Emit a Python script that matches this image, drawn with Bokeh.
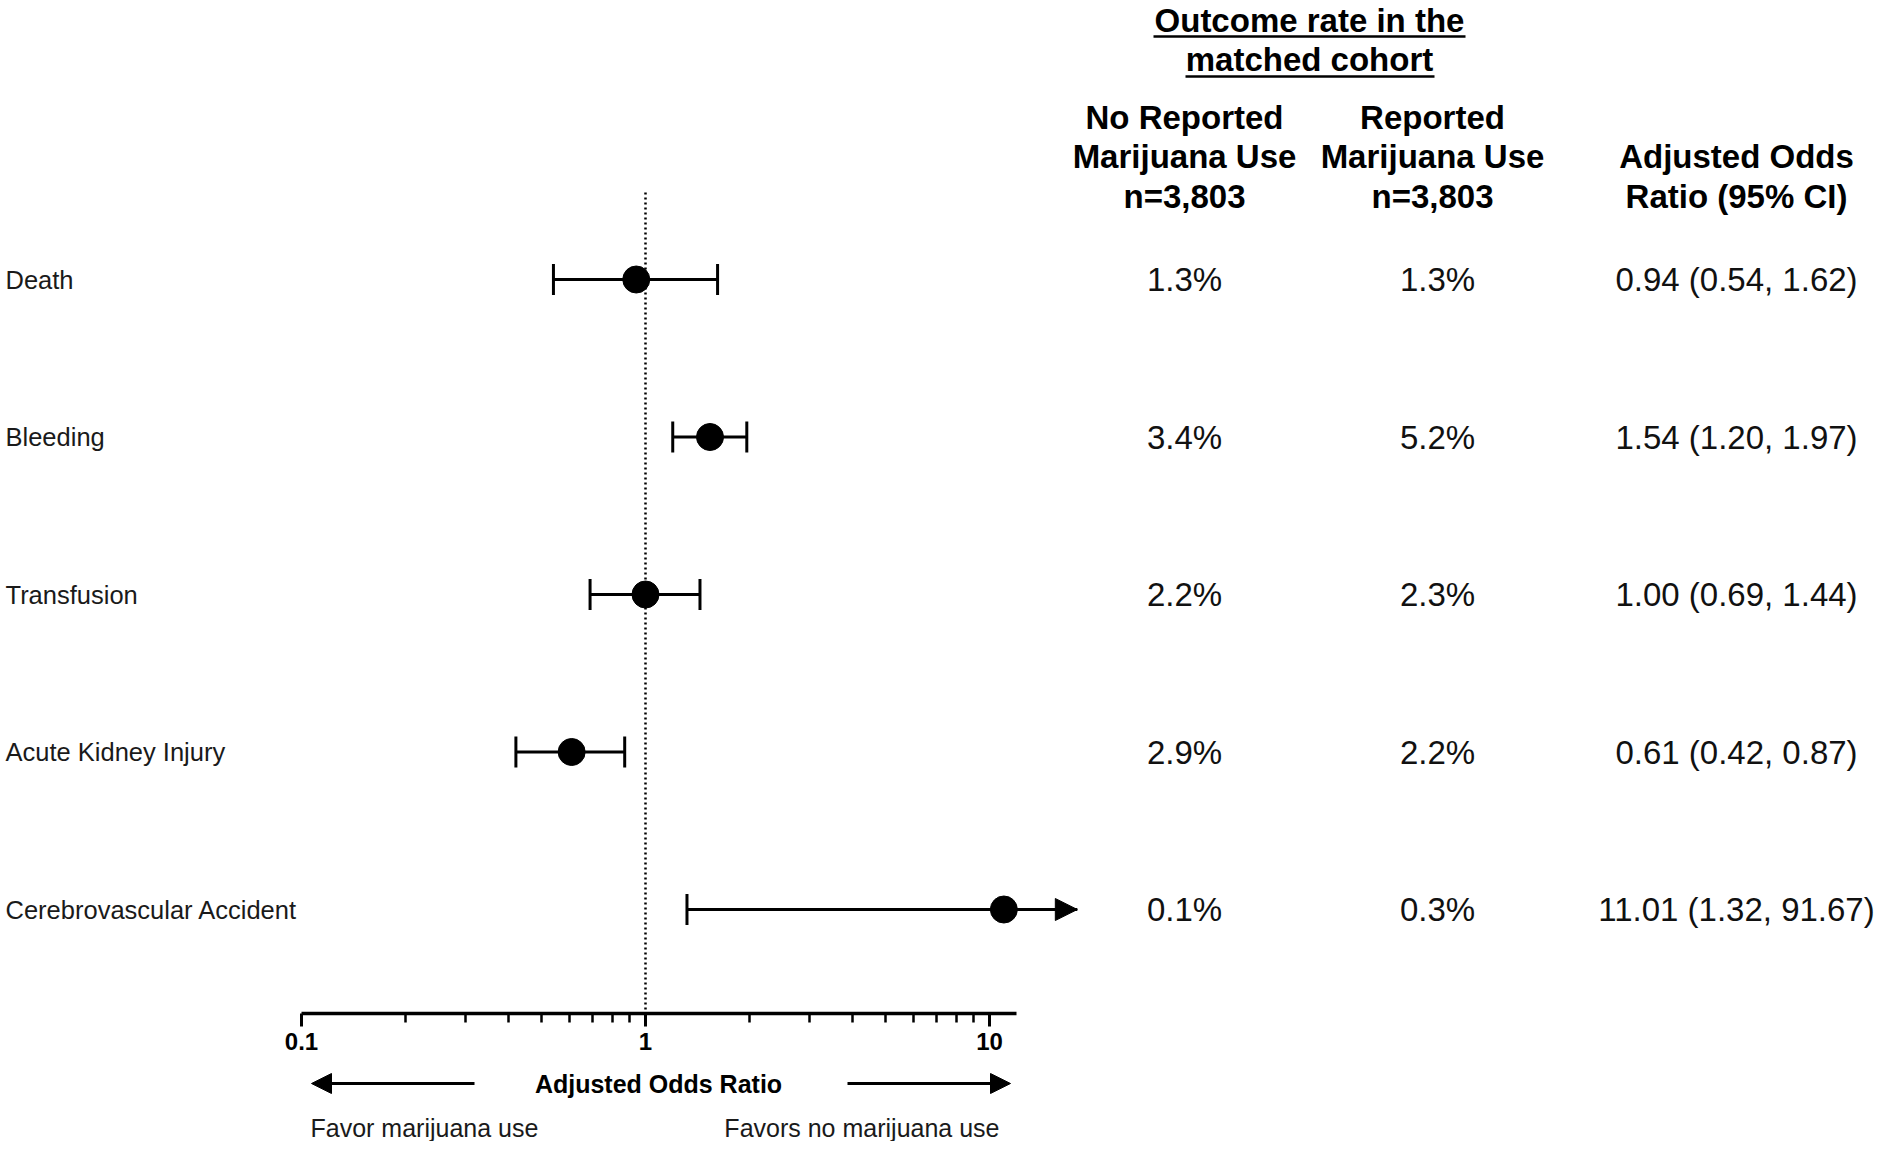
import numpy as np
from bokeh.plotting import figure
from bokeh.models import (Range1d, LinearScale, FixedTicker, ColumnDataSource,
                          Arrow, NormalHead)
from bokeh.layouts import column
from bokeh.embed import file_html
from bokeh.resources import INLINE
from bokeh.core.properties import value

# ---------------- data ----------------
outcomes = ["Death", "Bleeding", "Transfusion", "Acute Kidney Injury",
            "Cerebrovascular Accident"]
odds_ratio = [0.94, 1.54, 1.00, 0.61, 11.01]
ci_low = [0.54, 1.20, 0.69, 0.42, 1.32]
ci_high = [1.62, 1.97, 1.44, 0.87, 91.67]
rate_no_use = [1.3, 3.4, 2.2, 2.9, 0.1]
rate_use = [1.3, 5.2, 2.3, 2.2, 0.3]
n_no_use = 3803
n_use = 3803
major_ticks = [0.1, 1, 10]
major_tick_labels = ["0.1", "1", "10"]
minor_ticks = [0.2, 0.3, 0.4, 0.5, 0.6, 0.7, 0.8, 0.9,
               2, 3, 4, 5, 6, 7, 8, 9]
axis_bounds = (0.1, 12)
display_max = 18          # CI beyond this is drawn as an arrow

# ---------------- layout (page pixels) ----------------
FONT = value("Liberation Sans")
PAGE = 0
W = 1874
X_ONE = 645               # page x of OR = 1
DECADE = 344              # px per decade
ROW0 = 279
ROW_STEP = 157.5
AXIS_Y = 1013
HT = AXIS_Y - PAGE + 56
HB = 72
COL1, COL2, COL3, HEAD = 1184, 1432, 1736, 1309
COL2_VALUES = 1437


def or_at(px):
    return 10 ** ((px - X_ONE) / DECADE)


def row_at(py):
    return (py - ROW0) / ROW_STEP


x_range = Range1d(or_at(PAGE), or_at(PAGE + W))

top = figure(width=W, height=HT, x_axis_type="log", x_range=x_range,
             y_range=Range1d(row_at(AXIS_Y), row_at(PAGE)),
             y_axis_location=None, output_backend="svg",
             toolbar_location=None, min_border=0)
top.min_border_bottom = HT - (AXIS_Y - PAGE)
top.extra_x_ranges = {"px": Range1d(PAGE, PAGE + W)}
top.extra_x_scales = {"px": LinearScale()}
top.outline_line_color = None
top.grid.visible = False
top.background_fill_color = "white"
top.border_fill_color = "white"

ax = top.xaxis[0]
ax.ticker = FixedTicker(ticks=major_ticks, minor_ticks=minor_ticks)
ax.major_label_overrides = {t: l for t, l in zip(major_ticks, major_tick_labels)}
ax.bounds = axis_bounds
ax.axis_line_width = 3.5
ax.axis_line_color = "black"
ax.major_tick_line_width = 3
ax.major_tick_line_color = "black"
ax.minor_tick_line_width = 2.5
ax.minor_tick_line_color = "black"
ax.major_tick_in = 0
ax.major_tick_out = 13
ax.minor_tick_in = 0
ax.minor_tick_out = 9
ax.major_label_standoff = 6
ax.major_label_text_font = "Liberation Sans"
ax.major_label_text_font_style = "bold"
ax.major_label_text_font_size = "24px"
ax.major_label_text_color = "black"

n = len(outcomes)
rows = list(range(n))
seg_hi = [min(h, display_max) for h in ci_high]
clipped = [h > display_max for h in ci_high]

# reference line at OR = 1
top.segment(x0=[1], x1=[1], y0=[row_at(192)], y1=[row_at(AXIS_Y)],
            line_color="black", line_width=2.5, line_dash="2 3")

src = ColumnDataSource(dict(y=rows, lo=ci_low, hi=seg_hi, orr=odds_ratio))
top.segment(x0="lo", x1="hi", y0="y", y1="y", source=src,
            line_color="black", line_width=3)
top.scatter(x="lo", y="y", source=src, marker="dash", angle=np.pi / 2,
            size=31, line_color="black", line_width=3)
cap_src = ColumnDataSource(dict(
    x=[h for h, c in zip(ci_high, clipped) if not c],
    y=[r for r, c in zip(rows, clipped) if not c]))
top.scatter(x="x", y="y", source=cap_src, marker="dash", angle=np.pi / 2,
            size=31, line_color="black", line_width=3)
arr_src = ColumnDataSource(dict(
    x0=[o for o, c in zip(odds_ratio, clipped) if c],
    x1=[display_max for c in clipped if c],
    y=[r for r, c in zip(rows, clipped) if c]))
top.add_layout(Arrow(x_start="x0", x_end="x1", y_start="y", y_end="y",
                     source=arr_src, line_width=3, line_color="black",
                     end=NormalHead(size=22, fill_color="black",
                                    line_color="black")))
top.scatter(x="orr", y="y", source=src, marker="circle", size=27,
            fill_color="black", line_color="black")

# row labels
top.text(x=[PAGE + 5] * n, y=rows, text=outcomes, x_range_name="px",
         text_font=FONT, text_font_size="25.5px", text_color="#1a1a1a",
         text_baseline="middle", text_align="left")

# table headers
top.text(x=[HEAD, HEAD], y=[row_at(20), row_at(59)],
         text=["Outcome rate in the", "matched cohort"], x_range_name="px",
         text_font=FONT, text_font_size="33px", text_font_style="bold",
         text_color="black", text_baseline="middle", text_align="center")
top.segment(x0=[1153, 1185], x1=[1465, 1434], y0=[row_at(36), row_at(76)],
            y1=[row_at(36), row_at(76)], x_range_name="px",
            line_color="black", line_width=2.5)
hdr_x = [COL1, COL1, COL1, COL2, COL2, COL2, COL3, COL3]
hdr_y = [row_at(v) for v in (117, 156, 196, 117, 156, 196, 156, 196)]
hdr_t = ["No Reported", "Marijuana Use", f"n={n_no_use:,}",
         "Reported", "Marijuana Use", f"n={n_use:,}",
         "Adjusted Odds", "Ratio (95% CI)"]
top.text(x=hdr_x, y=hdr_y, text=hdr_t, x_range_name="px",
         text_font=FONT, text_font_size="33px", text_font_style="bold",
         text_color="black", text_baseline="middle", text_align="center")

# table values
top.text(x=[COL1] * n, y=rows, text=[f"{v:.1f}%" for v in rate_no_use],
         x_range_name="px", text_font=FONT, text_font_size="33px",
         text_color="#111111", text_baseline="middle", text_align="center")
top.text(x=[COL2_VALUES] * n, y=rows, text=[f"{v:.1f}%" for v in rate_use],
         x_range_name="px", text_font=FONT, text_font_size="33px",
         text_color="#111111", text_baseline="middle", text_align="center")
top.text(x=[COL3] * n, y=rows,
         text=[f"{o:.2f} ({l:.2f}, {h:.2f})"
               for o, l, h in zip(odds_ratio, ci_low, ci_high)],
         x_range_name="px", text_font=FONT, text_font_size="33px",
         text_color="#111111", text_baseline="middle", text_align="center")

# ---------------- bottom strip ----------------
y_top_b = PAGE + HT
bot = figure(width=W, height=HB, x_axis_type="log", x_range=x_range,
             y_range=Range1d(y_top_b + HB, y_top_b),
             x_axis_location=None, y_axis_location=None,
             output_backend="svg", toolbar_location=None, min_border=0)
bot.outline_line_color = None
bot.grid.visible = False
bot.background_fill_color = "white"
bot.border_fill_color = "white"

bot.text(x=[or_at(658)], y=[1083], text=["Adjusted Odds Ratio"],
         text_font=FONT, text_font_size="25px", text_font_style="bold",
         text_color="black", text_baseline="middle", text_align="center")
for xs, xe in ((474, 311), (847, 1010)):
    bot.add_layout(Arrow(x_start=or_at(xs), x_end=or_at(xe), y_start=1083,
                         y_end=1083, line_width=3, line_color="black",
                         end=NormalHead(size=20, fill_color="black",
                                        line_color="black")))
bot.text(x=[or_at(310)], y=[1127], text=["Favor marijuana use"],
         text_font=FONT, text_font_size="25px", text_color="#1a1a1a",
         text_baseline="middle", text_align="left")
bot.text(x=[or_at(999)], y=[1127], text=["Favors no marijuana use"],
         text_font=FONT, text_font_size="25px", text_color="#1a1a1a",
         text_baseline="middle", text_align="right")

p = column(top, bot, spacing=0)
open("out.html", "w").write(file_html(p, INLINE))
